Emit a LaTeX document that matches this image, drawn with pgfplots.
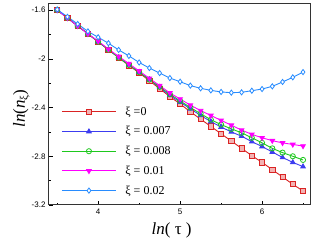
\documentclass[border=0pt]{standalone}
\usepackage{fontspec}
\setmainfont{Liberation Serif}
\newfontfamily\sansf{Liberation Sans}
\usepackage{pgfplots}
\pgfplotsset{compat=1.18}
\definecolor{cred}{RGB}{218,35,35}
\definecolor{cblue}{RGB}{60,60,240}
\definecolor{cgreen}{RGB}{30,200,30}
\definecolor{cmag}{RGB}{255,0,255}
\definecolor{csky}{RGB}{40,140,255}
\begin{document}
\begin{tikzpicture}
\begin{axis}[
  scale only axis, width=261pt, height=201pt,
  xmin=3.4, xmax=6.585, ymin=-3.2, ymax=-1.55,
  xtick={4,5,6}, ytick={-3.2,-2.8,-2.4,-2,-1.6},
  minor xtick={3.5,4.5,5.5,6.5}, minor ytick={-3,-2.6,-2.2,-1.8},
  tick align=inside, xtick pos=bottom, ytick pos=left,
  major tick length=4pt, minor tick length=2pt,
  tick style={black, line width=0.6pt},
  axis line style={black!80, line width=1pt},
  ticklabel style={font=\sansf\fontsize{8}{9}\selectfont},
  /pgf/number format/assume math mode=true,
  yticklabel style={/pgf/number format/fixed, /pgf/number format/precision=1},
  xlabel={\fontsize{17}{18}\selectfont\textit{ln}( τ )},
  ylabel={\fontsize{17}{18}\selectfont\textit{ln}(\textit{n}\raisebox{-0.35ex}{\fontsize{11}{11}\selectfont ξ})},
  xlabel style={at={(axis description cs:0.47,0)}, anchor=north, yshift=-14pt},
  ylabel style={at={(axis description cs:0,0.48)}, anchor=south, yshift=16pt},
  legend style={at={(axis cs:3.55,-2.385)}, anchor=north west, draw=none, fill=none,
    font=\fontsize{12}{13}\selectfont, row sep=7.8pt, inner sep=0pt,
    nodes={inner sep=1pt},
    /tikz/every odd column/.append style={column sep=8pt}},
  legend cell align=left,
  legend image code/.code={\draw[#1,mark=none] (0pt,0pt) -- (54pt,0pt); \path[#1,draw=none] plot coordinates {(27pt,0pt)};},
  every axis plot/.append style={line width=0.9pt, mark size=2.6pt},
]
\addplot[cred, mark=square*, mark options={fill=cred!35, line width=0.8pt}] coordinates {
(3.5,-1.60) (3.625,-1.665) (3.75,-1.73) (3.875,-1.795) (4.0,-1.86) (4.125,-1.925)
(4.25,-1.99) (4.375,-2.055) (4.5,-2.115) (4.625,-2.18) (4.75,-2.245) (4.875,-2.31)
(5.0,-2.37) (5.125,-2.435) (5.25,-2.495) (5.375,-2.555) (5.5,-2.615) (5.625,-2.675)
(5.75,-2.735) (5.875,-2.795) (6.0,-2.85) (6.125,-2.91) (6.25,-2.97) (6.375,-3.03) (6.5,-3.085)};
\addlegendentry{ξ =0}
\addplot[cblue, mark=triangle*, mark options={fill=cblue}] coordinates {
(3.5,-1.60) (3.625,-1.665) (3.75,-1.73) (3.875,-1.795) (4.0,-1.86) (4.125,-1.925)
(4.25,-1.99) (4.375,-2.05) (4.5,-2.11) (4.625,-2.17) (4.75,-2.235) (4.875,-2.30)
(5.0,-2.355) (5.125,-2.41) (5.25,-2.465) (5.375,-2.515) (5.5,-2.56) (5.625,-2.60)
(5.75,-2.635) (5.875,-2.68) (6.0,-2.72) (6.125,-2.765) (6.25,-2.81) (6.375,-2.85) (6.5,-2.885)};
\addlegendentry{ξ = 0.007}
\addplot[cgreen, mark=o, mark options={fill=none, line width=0.8pt}] coordinates {
(3.5,-1.60) (3.625,-1.665) (3.75,-1.73) (3.875,-1.795) (4.0,-1.86) (4.125,-1.925)
(4.25,-1.99) (4.375,-2.05) (4.5,-2.11) (4.625,-2.17) (4.75,-2.23) (4.875,-2.29)
(5.0,-2.345) (5.125,-2.40) (5.25,-2.45) (5.375,-2.50) (5.5,-2.54) (5.625,-2.575)
(5.75,-2.607) (5.875,-2.648) (6.0,-2.69) (6.125,-2.735) (6.25,-2.77) (6.375,-2.80) (6.5,-2.83)};
\addlegendentry{ξ = 0.008}
\addplot[cmag, mark=triangle*, mark options={rotate=180, fill=cmag}] coordinates {
(3.5,-1.60) (3.625,-1.665) (3.75,-1.73) (3.875,-1.795) (4.0,-1.855) (4.125,-1.92)
(4.25,-1.98) (4.375,-2.04) (4.5,-2.10) (4.625,-2.16) (4.75,-2.22) (4.875,-2.28)
(5.0,-2.33) (5.125,-2.38) (5.25,-2.425) (5.375,-2.465) (5.5,-2.505) (5.625,-2.545)
(5.75,-2.585) (5.875,-2.62) (6.0,-2.648) (6.125,-2.672) (6.25,-2.69) (6.375,-2.703) (6.5,-2.716)};
\addlegendentry{ξ = 0.01}
\addplot[csky, mark=diamond*, mark options={fill=white, line width=0.8pt}] coordinates {
(3.5,-1.595) (3.625,-1.655) (3.75,-1.714) (3.875,-1.775) (4.0,-1.823) (4.125,-1.872)
(4.25,-1.927) (4.375,-1.976) (4.5,-2.03) (4.625,-2.076) (4.75,-2.117) (4.875,-2.158)
(5.0,-2.188) (5.125,-2.22) (5.25,-2.242) (5.375,-2.259) (5.5,-2.272) (5.625,-2.278)
(5.75,-2.275) (5.875,-2.262) (6.0,-2.248) (6.125,-2.226) (6.25,-2.19) (6.375,-2.152) (6.5,-2.109)};
\addlegendentry{ξ = 0.02}
\end{axis}
\pgfresetboundingbox
\path ([shift={(-49pt,-39pt)}]current axis.south west) rectangle ([shift={(7pt,4pt)}]current axis.north east);
\end{tikzpicture}
\end{document}
